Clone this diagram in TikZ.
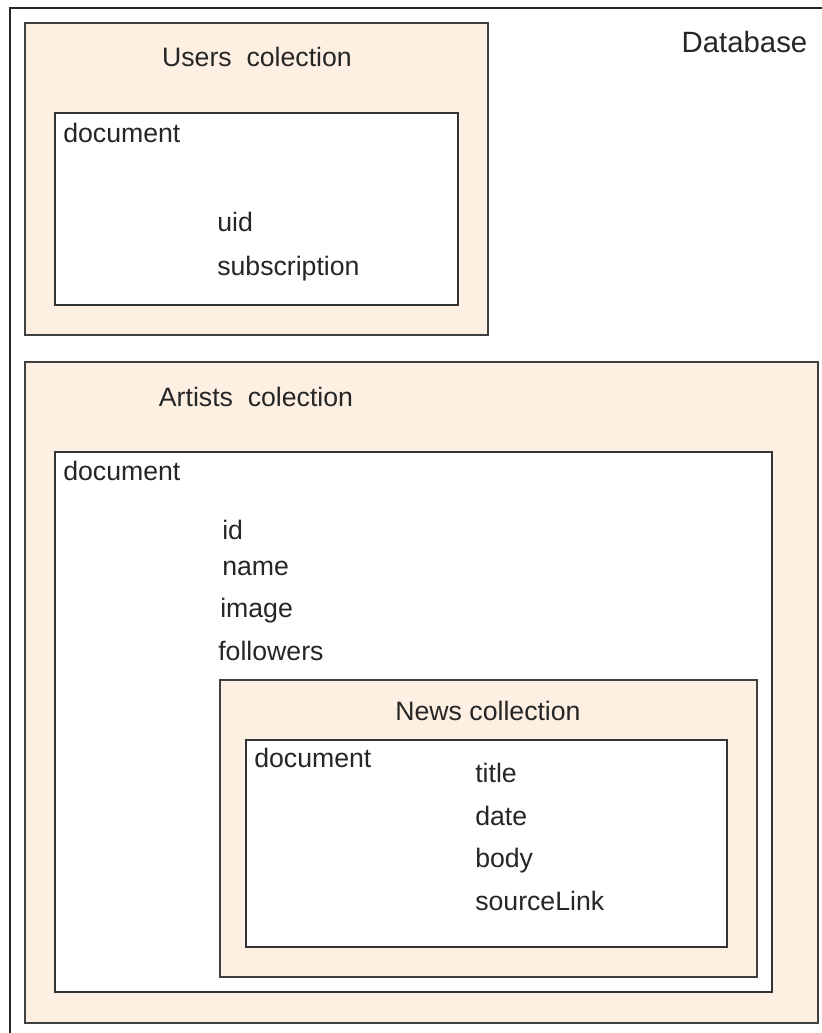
\documentclass[tikz,border=0pt]{standalone}
\usepackage{fontspec}
\setmainfont{Liberation Sans}
\begin{document}
\begin{tikzpicture}[x=0.75pt,y=-0.75pt,
  frame/.style={draw=black!85, line width=1.5pt},
  coll/.style={draw=black!75, line width=1.5pt, fill=collfill},
  docbox/.style={draw=black!80, line width=1.4pt, fill=white},
  lbl/.style={anchor=base west, inner sep=0pt, text=black!85, font=\fontsize{20}{24}\selectfont},
  ttl/.style={anchor=base, inner sep=0pt, text=black!85, font=\fontsize{20}{24}\selectfont}]
\definecolor{collfill}{HTML}{FDF0E2}
\useasboundingbox (0,0) rectangle (822,1033);
\fill[white] (0,0) rectangle (822,1033);

% database frame (open to the right and bottom)
\draw[frame] (822,8) -- (10,8) -- (10,1033);
\node[ttl, font=\fontsize{22}{26}\selectfont] (db) at (744.5,52) {Database};

% users collection
\draw[coll] (25,23) rectangle (488,335);
\node[ttl] (users) at (257,66) {Users\ \ colection};
\draw[docbox] (55,113) rectangle (458,305);
\node[lbl] (udoc) at (63,142) {document};
\node[lbl] (uid) at (217,231) {uid};
\node[lbl] (usub) at (217,275) {subscription};

% artists collection
\draw[coll] (25,362) rectangle (818,1023);
\node[ttl] (artists) at (256,406) {Artists\ \ colection};
\draw[docbox] (55,452) rectangle (772,992);
\node[lbl] (adoc) at (63,480) {document};
\node[lbl] (aid) at (222,539) {id};
\node[lbl] (aname) at (222,575) {name};
\node[lbl] (aimage) at (220,617) {image};
\node[lbl] (afoll) at (218,660) {followers};

% news sub-collection
\draw[coll] (220,680) rectangle (757,977);
\node[ttl] (news) at (488,720) {News collection};
\draw[docbox] (246,740) rectangle (727,947);
\node[lbl] (ndoc) at (254,767) {document};
\node[lbl] (ntitle) at (475,782) {title};
\node[lbl] (ndate) at (475,825) {date};
\node[lbl] (nbody) at (475,867) {body};
\node[lbl] (nsrc) at (475,910) {sourceLink};
\end{tikzpicture}
\end{document}
